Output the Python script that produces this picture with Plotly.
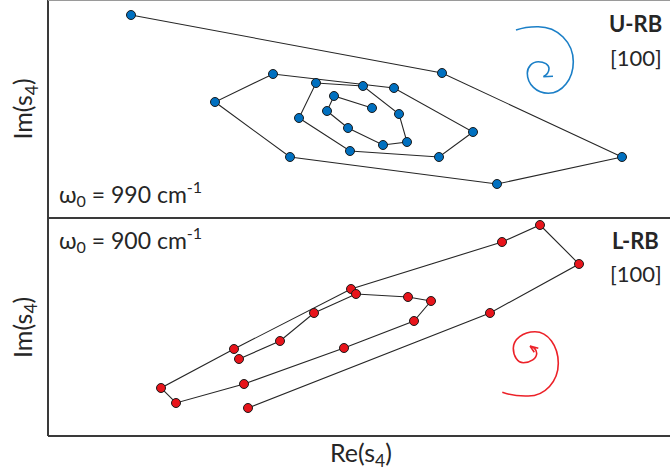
import plotly.graph_objects as go

# Trajectory of s4 in the complex plane (arbitrary units), in drawing order
urb_re = [0.83, 3.94, 5.74, 4.49, 2.42, 1.67, 2.25, 3.46, 4.25, 3.91, 3.02,
          2.51, 2.68, 3.15, 3.51, 3.59, 3.35, 3.00, 2.79, 2.86, 3.24]
urb_im = [2.03, 1.45, 0.61, 0.34, 0.61, 1.16, 1.44, 1.30, 0.86, 0.61, 0.67,
          1.00, 1.35, 1.32, 1.04, 0.76, 0.73, 0.90, 1.07, 1.22, 1.10]

lrb_re = [2.00, 4.42, 5.31, 4.92, 4.54, 3.03, 1.86, 1.13, 1.28, 1.96, 2.96,
          3.66, 3.83, 3.60, 3.08, 2.66, 2.32, 1.91]
lrb_im = [0.28, 1.23, 1.72, 2.11, 1.94, 1.47, 0.87, 0.48, 0.33, 0.52, 0.88,
          1.15, 1.35, 1.39, 1.42, 1.23, 0.95, 0.77]

X_RANGE = [0, 6.22]
Y_RANGE = [0, 2.18]

BLUE = "#0070C0"
RED = "#E8141B"
INK = "#262626"
FONT = "Lato"

fig = go.Figure()

fig.add_trace(go.Scatter(
    x=urb_re, y=urb_im, xaxis="x", yaxis="y", mode="lines+markers",
    line=dict(color=INK, width=1.1),
    marker=dict(size=9, color=BLUE, line=dict(color="#1a1a1a", width=1)),
    showlegend=False, hoverinfo="skip"))

fig.add_trace(go.Scatter(
    x=lrb_re, y=lrb_im, xaxis="x2", yaxis="y2", mode="lines+markers",
    line=dict(color=INK, width=1.1),
    marker=dict(size=9, color=RED, line=dict(color="#1a1a1a", width=1)),
    showlegend=False, hoverinfo="skip"))

# Rotation-sense icons: spirals built from quarter-arc Bezier segments
K = 0.5523


def fmt(p):
    return f"{p[0]:.3f},{p[1]:.3f}"


def quarter(a, b, a_horizontal):
    if a_horizontal:
        c1 = (a[0] + K * (b[0] - a[0]), a[1])
        c2 = (b[0], b[1] + K * (a[1] - b[1]))
    else:
        c1 = (a[0], a[1] + K * (b[1] - a[1]))
        c2 = (b[0] + K * (a[0] - b[0]), b[1])
    return f" C {fmt(c1)} {fmt(c2)} {fmt(b)}"


def spiral(start, lead_ctrl, keys, first_horizontal, tail_c1, tail_c2, tip, barbs):
    path = f"M {fmt(start)} Q {fmt(lead_ctrl)} {fmt(keys[0])}"
    horiz = first_horizontal
    for a, b in zip(keys[:-1], keys[1:]):
        path += quarter(a, b, horiz)
        horiz = not horiz
    path += f" C {fmt(tail_c1)} {fmt(tail_c2)} {fmt(tip)}"
    for bb in barbs:
        path += f" M {fmt(tip)} L {fmt(bb)}"
    return path


blue_path = spiral(
    start=(4.68, 1.88), lead_ctrl=(4.78, 1.915),
    keys=[(4.903, 1.913), (5.253, 1.563), (5.003, 1.247), (4.793, 1.447),
          (4.903, 1.563), (5.010, 1.495)],
    first_horizontal=True,
    tail_c1=(5.010, 1.455), tail_c2=(4.975, 1.425), tip=(4.953, 1.413),
    barbs=[(5.05, 1.418)])

red_path = spiral(
    start=(4.543, 0.437), lead_ctrl=(4.66, 0.395),
    keys=[(4.803, 0.400), (5.103, 0.727), (4.870, 1.043), (4.653, 0.877),
          (4.753, 0.733), (4.887, 0.827)],
    first_horizontal=True,
    tail_c1=(4.887, 0.865), tail_c2=(4.850, 0.895), tip=(4.820, 0.900),
    barbs=[(4.903, 0.877), (4.863, 0.837)])

shapes = [
    dict(type="path", path=blue_path, xref="x", yref="y",
         line=dict(color="#1B7FC7", width=1.6)),
    dict(type="path", path=red_path, xref="x2", yref="y2",
         line=dict(color="#EC2128", width=1.6)),
]

# Panel frames (open on the right)
FRAME = dict(color="#3a3a3a", width=2)
shapes += [
    dict(type="line", xref="paper", yref="paper", x0=0, x1=0, y0=0, y1=1, line=FRAME),
    dict(type="line", xref="paper", yref="paper", x0=0, x1=1.05, y0=0, y1=0, line=FRAME),
    dict(type="line", xref="paper", yref="paper", x0=0, x1=1.05, y0=0.5, y1=0.5, line=FRAME),
    dict(type="line", xref="paper", yref="paper", x0=0, x1=1.05, y0=1, y1=1,
         line=dict(color="#9a9a9a", width=2)),
]


def note(text, x, y, xanchor="center", size=21, bold=False, angle=0):
    return dict(text=f"<b>{text}</b>" if bold else text, x=x, y=y,
                xref="paper", yref="paper", xanchor=xanchor, yanchor="middle",
                showarrow=False, textangle=angle,
                font=dict(family=FONT, size=size, color=INK))


annotations = [
    note("Im(s<sub>4</sub>)", -0.0386, 0.751, angle=-90, size=25),
    note("Im(s<sub>4</sub>)", -0.0386, 0.250, angle=-90, size=25),
    note("Re(s<sub>4</sub>)", 0.503, -0.042, size=25),
    note("U-RB", 0.990, 0.945, xanchor="right", bold=True, size=22),
    note("[100]", 0.991, 0.867, xanchor="right", size=22),
    note("L-RB", 0.985, 0.4495, xanchor="right", bold=True, size=22),
    note("[100]", 0.991, 0.3716, xanchor="right", size=22),
    note("ω<sub>0</sub> = 990 cm<sup>-1</sup>", 0.0145, 0.557, xanchor="left", size=23),
    note("ω<sub>0</sub> = 900 cm<sup>-1</sup>", 0.0145, 0.450, xanchor="left", size=23),
]

hidden = dict(showgrid=False, zeroline=False, showticklabels=False,
              ticks="", showline=False, fixedrange=True)

fig.update_layout(
    width=670, height=475,
    margin=dict(l=48, r=0, t=0, b=39),
    paper_bgcolor="white", plot_bgcolor="white",
    xaxis=dict(domain=[0, 1], anchor="y", range=X_RANGE, **hidden),
    yaxis=dict(domain=[0.5, 1], anchor="x", range=Y_RANGE, **hidden),
    xaxis2=dict(domain=[0, 1], anchor="y2", range=X_RANGE, **hidden),
    yaxis2=dict(domain=[0, 0.5], anchor="x2", range=Y_RANGE, **hidden),
    shapes=shapes,
    annotations=annotations,
)

fig.write_html("out.html")
